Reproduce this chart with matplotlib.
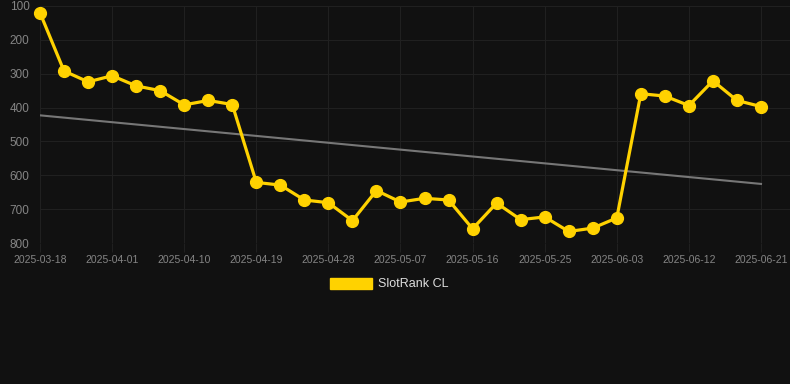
import numpy as np
import matplotlib
matplotlib.use("Agg")
import matplotlib.pyplot as plt
import matplotlib.patches as mpatches

# slot rank per date (lower rank = better, axis is inverted)
dates = ["2025-03-18", "2025-03-23", "2025-03-28", "2025-04-01", "2025-04-04",
         "2025-04-07", "2025-04-10", "2025-04-13", "2025-04-16", "2025-04-19",
         "2025-04-22", "2025-04-25", "2025-04-28", "2025-05-01", "2025-05-04",
         "2025-05-07", "2025-05-10", "2025-05-13", "2025-05-16", "2025-05-19",
         "2025-05-22", "2025-05-25", "2025-05-28", "2025-05-31", "2025-06-03",
         "2025-06-06", "2025-06-09", "2025-06-12", "2025-06-15", "2025-06-18",
         "2025-06-21"]
rank = [120, 292, 324, 306, 336, 350, 392, 379, 391, 621,
        629, 673, 681, 734, 645, 679, 668, 673, 758, 682,
        731, 723, 766, 756, 726, 359, 366, 394, 321, 379,
        397]
y_ticks = [100, 200, 300, 400, 500, 600, 700, 800]
series_name = "SlotRank CL"

bg = "#111111"
gold = "#ffd200"
grid_col = "#202020"
label_col = "#858585"

plt.rcParams['font.family'] = ['Liberation Sans', 'DejaVu Sans']

fig = plt.figure(figsize=(7.9, 3.84), dpi=100, facecolor=bg)
ax = fig.add_axes([40 / 790, 1 - 243 / 384, 750 / 790, 237 / 384])
ax.set_facecolor(bg)

x = np.arange(len(rank))

# linear trend
coef = np.polyfit(x, rank, 1)
ax.plot(x, np.polyval(coef, x), color="#777777", linewidth=1.5, zorder=2)

ax.plot(x, rank, color=gold, linewidth=2.3, marker="o", markersize=8.5,
        zorder=3, clip_on=False)

ax.set_ylim(800, 100)
ax.set_xlim(0, 30 + 29 / 24.03)
ax.set_yticks(y_ticks)
ax.set_xticks(x[::3])
ax.set_xticklabels(dates[::3])

for s in ax.spines.values():
    s.set_visible(False)
ax.grid(True, color=grid_col, linewidth=0.8)
ax.tick_params(axis="x", colors=grid_col, length=6.5, width=0.8, pad=2,
               labelcolor=label_col, labelsize=7.5)
ax.tick_params(axis="y", length=0, pad=7.5, labelcolor=label_col, labelsize=8.5)
ax.set_axisbelow(True)

patches = [mpatches.Patch(color=gold, label=series_name)]
fig.legend(handles=patches, loc="center", bbox_to_anchor=(0.493, 1 - 284 / 384),
           frameon=False, fontsize=9, labelcolor="#dddddd",
           handlelength=3.33, handleheight=1.0, handletextpad=0.5)

fig.savefig("out.png", dpi=100, facecolor=bg)
